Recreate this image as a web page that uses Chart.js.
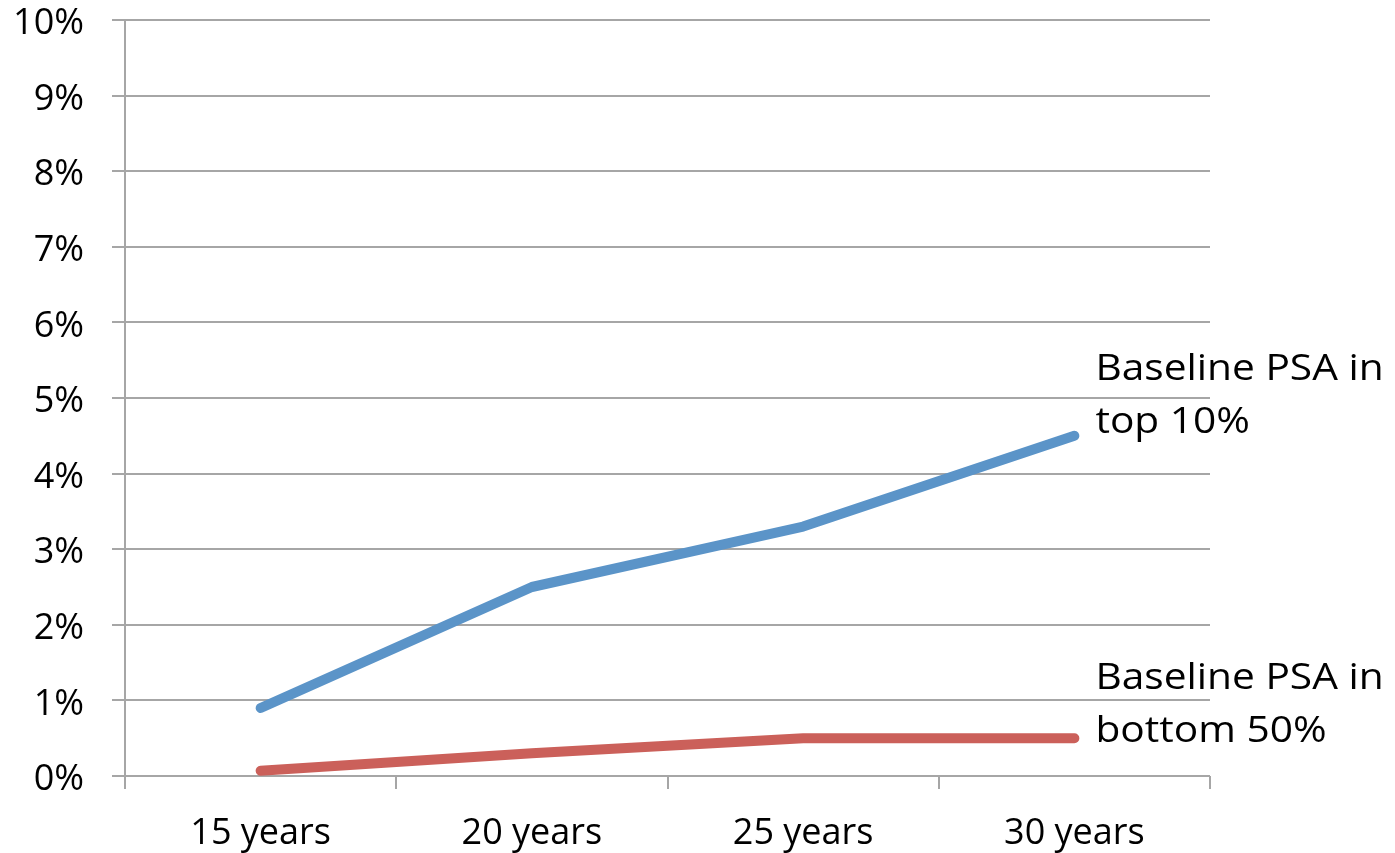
<!DOCTYPE html>
<html>
<head>
<meta charset="utf-8">
<script src="https://cdn.jsdelivr.net/npm/chart.js@4/dist/chart.umd.min.js"></script>
<style>
  html, body { margin: 0; padding: 0; background: #ffffff; }
  #wrap { width: 1395px; height: 853px; position: relative; }
</style>
</head>
<body>
<div id="wrap"><canvas id="c"></canvas></div>
<script>
// Follow-up horizon categories
const categories = ["15 years", "20 years", "25 years", "30 years"];
// Cumulative risk (%) by baseline PSA group
const topTenValues = [0.9, 2.5, 3.3, 4.5];
const bottomFiftyValues = [0.07, 0.3, 0.5, 0.5];
// End-of-line series labels, one entry per text line
const topTenLabel = ["Baseline PSA in", "top 10%"];
const bottomFiftyLabel = ["Baseline PSA in", "bottom 50%"];
// Y axis range and step (%)
const yMin = 0, yMax = 10, yStep = 1;

const FONT = "'Open Sans', Lato, sans-serif";
const FONT_SIZE = 36;

// Writes each series' label to the right of its last point
const endLabels = {
  id: 'endLabels',
  afterDatasetsDraw(chart) {
    const ctx = chart.ctx;
    chart.data.datasets.forEach((ds, i) => {
      const meta = chart.getDatasetMeta(i);
      const last = meta.data[meta.data.length - 1];
      const lines = ds.endLabel;
      const lh = 53;
      const x = last.x + 21;
      const yLast = last.y + ds.endLabelDy;
      ctx.save();
      ctx.fillStyle = '#000000';
      ctx.font = FONT_SIZE + 'px ' + FONT;
      ctx.textAlign = 'left';
      ctx.textBaseline = 'alphabetic';
      ctx.translate(x, 0);
      ctx.scale(1.13, 1);
      lines.forEach((t, k) => {
        ctx.fillText(t, 0, yLast - (lines.length - 1 - k) * lh);
      });
      ctx.restore();
    });
  }
};

new Chart(document.getElementById('c'), {
  type: 'line',
  data: {
    labels: categories,
    datasets: [
      {
        label: topTenLabel.join(' '),
        endLabel: topTenLabel,
        endLabelDy: -3,
        data: topTenValues,
        borderColor: '#5b94c8',
        backgroundColor: '#5b94c8',
        borderWidth: 10,
        borderCapStyle: 'round',
        borderJoinStyle: 'round',
        pointRadius: 0,
        tension: 0
      },
      {
        label: bottomFiftyLabel.join(' '),
        endLabel: bottomFiftyLabel,
        endLabelDy: 4,
        data: bottomFiftyValues,
        borderColor: '#cb605a',
        backgroundColor: '#cb605a',
        borderWidth: 10,
        borderCapStyle: 'round',
        borderJoinStyle: 'round',
        pointRadius: 0,
        tension: 0
      }
    ]
  },
  options: {
    responsive: true,
    maintainAspectRatio: false,
    animation: false,
    layout: { padding: { top: 20, right: 185, left: 0, bottom: 0 } },
    plugins: {
      legend: { display: false },
      tooltip: { enabled: false }
    },
    scales: {
      x: {
        offset: true,
        grid: {
          offset: true,
          drawOnChartArea: false,
          drawTicks: true,
          tickLength: 13,
          color: '#a6a6a6',
          lineWidth: 2
        },
        border: { display: false },
        ticks: {
          color: '#000000',
          font: { family: FONT, size: FONT_SIZE },
          padding: 23,
          maxRotation: 0
        },
        afterFit(scale) {
          scale.height = 853 - 776;
          scale.paddingLeft = 0;
          scale.paddingRight = 0;
        }
      },
      y: {
        min: yMin,
        max: yMax,
        grid: {
          color: '#a6a6a6',
          lineWidth: 2,
          tickLength: 13,
          drawTicks: true
        },
        border: { display: true, color: '#a6a6a6', width: 2 },
        ticks: {
          stepSize: yStep,
          color: '#000000',
          font: { family: FONT, size: FONT_SIZE },
          padding: 28,
          labelOffset: 4,
          callback: v => v + '%'
        },
        afterFit(scale) {
          scale.width = 125;
          scale.paddingTop = 0;
          scale.paddingBottom = 0;
        }
      }
    }
  },
  plugins: [endLabels]
});
</script>
</body>
</html>
